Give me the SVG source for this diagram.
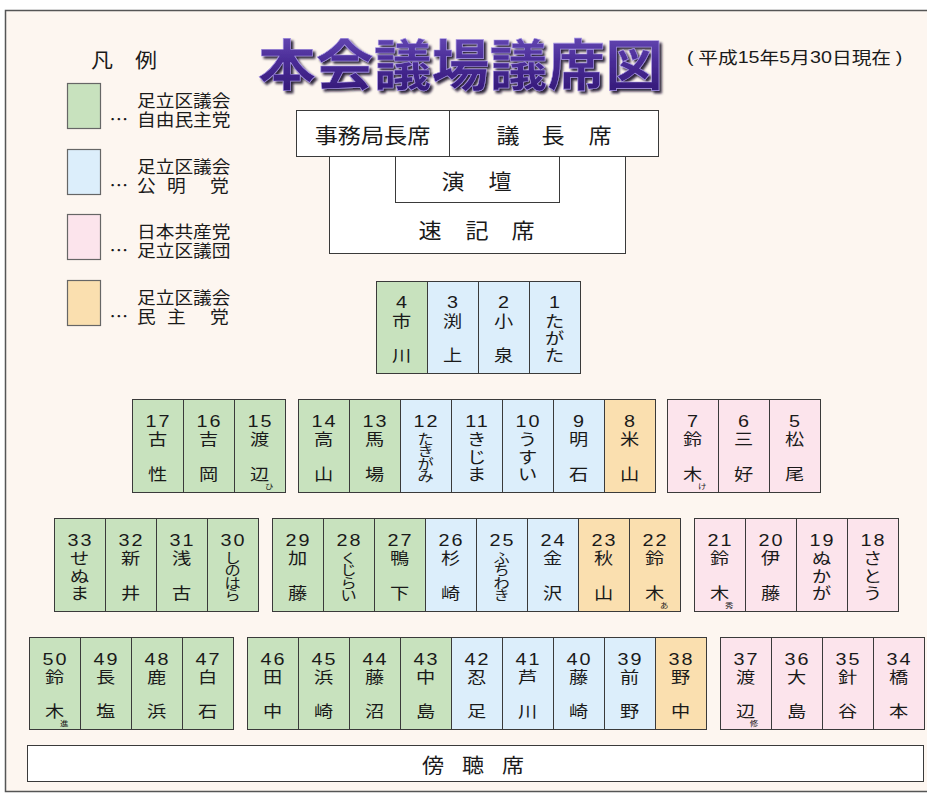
<svg xmlns="http://www.w3.org/2000/svg" width="927" height="795" viewBox="0 0 927 795">
<defs>
<style>
.s{stroke:#3a3a3a;stroke-width:1}
.g{fill:#C8E2BE}.b{fill:#DCEEFB}.p{fill:#FCE4EC}.o{fill:#FADFAF}.w{fill:#ffffff}
.lg{stroke:#666;stroke-width:1.2}
text{font-family:"Noto Sans CJK JP","Noto Sans CJK SC",sans-serif;fill:#1a1a1a;text-anchor:middle;dominant-baseline:central;font-size:16px}
tspan{dominant-baseline:central}
.num{font-family:"Liberation Sans","Noto Sans CJK JP",sans-serif;font-size:16.5px;letter-spacing:1.5px}
.k4{font-size:13.5px}
.sub{font-size:7px}
.lt{font-size:17px;text-anchor:start}
.big{font-size:21px}
.ttl{font-size:55px;font-weight:bold;text-anchor:start}
</style>
<linearGradient id="tg" x1="0" y1="0" x2="0" y2="1">
<stop offset="0" stop-color="#7258c4"/>
<stop offset="0.5" stop-color="#4a2c96"/>
<stop offset="1" stop-color="#2e1570"/>
</linearGradient>
<filter id="tsh" x="-5%" y="-20%" width="110%" height="150%">
<feDropShadow dx="2.5" dy="2.5" stdDeviation="0.8" flood-color="#140828" flood-opacity="0.9"/>
</filter>
</defs>
<rect x="0" y="0" width="927" height="795" fill="#ffffff"/>
<rect x="5.5" y="10.5" width="930" height="781" fill="#FDF6F0" stroke="#555" stroke-width="1.5"/>

<g id="title">
<text class="ttl" x="258" y="61" textLength="405" lengthAdjust="spacingAndGlyphs" filter="url(#tsh)" style="fill:url(#tg);stroke:#a896e6;stroke-width:0.6">本会議場議席図</text>
</g>
<g id="date" transform="translate(687,57) scale(1.16,1)">
<text x="0" y="0" style="font-size:17px;text-anchor:start;font-family:'Liberation Sans','Noto Sans CJK JP',sans-serif">(<tspan dx="4" style="font-family:'Noto Sans CJK JP',sans-serif">平成</tspan>15<tspan style="font-family:'Noto Sans CJK JP',sans-serif">年</tspan>5<tspan style="font-family:'Noto Sans CJK JP',sans-serif">月</tspan>30<tspan style="font-family:'Noto Sans CJK JP',sans-serif">日現在</tspan><tspan dx="4">)</tspan></text>
</g>

<g id="legend">
<g transform="translate(124,59) scale(1.1,1)"><text x="0" y="0" style="font-size:20px">凡　例</text></g>
<g id="legend-jimin"><rect class="lg g" x="67.5" y="83.5" width="33" height="45"/>
<g transform="translate(137,99) scale(1.1,1)"><text class="lt"><tspan x="0" y="0">足立区議会</tspan><tspan x="-25" y="19">…</tspan><tspan x="0" y="19">自由民主党</tspan></text></g></g>
<g id="legend-komei"><rect class="lg b" x="67.5" y="149.5" width="33" height="45"/>
<g transform="translate(137,165) scale(1.1,1)"><text class="lt"><tspan x="0" y="0">足立区議会</tspan><tspan x="-25" y="19">…</tspan><tspan x="0" y="19">公</tspan><tspan x="27.3" y="19">明</tspan><tspan x="66.4" y="19">党</tspan></text></g></g>
<g id="legend-kyosan"><rect class="lg p" x="67.5" y="214.5" width="33" height="45"/>
<g transform="translate(137,230) scale(1.1,1)"><text class="lt"><tspan x="0" y="0">日本共産党</tspan><tspan x="-25" y="19">…</tspan><tspan x="0" y="19">足立区議団</tspan></text></g></g>
<g id="legend-minshu"><rect class="lg o" x="67.5" y="280.5" width="33" height="45"/>
<g transform="translate(137,296) scale(1.1,1)"><text class="lt"><tspan x="0" y="0">足立区議会</tspan><tspan x="-25" y="19">…</tspan><tspan x="0" y="19">民</tspan><tspan x="27.3" y="19">主</tspan><tspan x="66.4" y="19">党</tspan></text></g></g>
</g>

<g id="sokki"><rect class="s w" x="329.5" y="156.5" width="296" height="97"/>
<g transform="translate(477,228) scale(1.1,1)"><text class="big"><tspan x="-42.7" y="0">速</tspan><tspan x="0" y="0">記</tspan><tspan x="41.8" y="0">席</tspan></text></g></g>
<g id="endan"><rect class="s w" x="395.5" y="156.5" width="164" height="46"/>
<g transform="translate(477,179) scale(1.1,1)"><text class="big"><tspan x="-21.8" y="0">演</tspan><tspan x="21" y="0">壇</tspan></text></g></g>
<g id="jimukyoku"><rect class="s w" x="296.5" y="110.5" width="153" height="46"/>
<g transform="translate(372.5,133) scale(1.1,1)"><text class="big" x="0" y="0">事務局長席</text></g></g>
<g id="gicho"><rect class="s w" x="449.5" y="110.5" width="209" height="46"/>
<g transform="translate(553,133) scale(1.1,1)"><text class="big"><tspan x="-40.9" y="0">議</tspan><tspan x="0" y="0">長</tspan><tspan x="42.7" y="0">席</tspan></text></g></g>

<!-- Row 1 -->
<g id="seat-4"><rect class="s g" x="376.5" y="281.5" width="51" height="92"/><g transform="translate(401.5,281) scale(1.2,1)"><text><tspan class="num" x="0.75" y="22">4</tspan><tspan x="0" y="38.5">市</tspan><tspan x="0" y="73">川</tspan></text></g></g>
<g id="seat-3"><rect class="s b" x="427.5" y="281.5" width="51" height="92"/><g transform="translate(452.5,281) scale(1.2,1)"><text><tspan class="num" x="0.75" y="22">3</tspan><tspan x="0" y="38.5">渕</tspan><tspan x="0" y="73">上</tspan></text></g></g>
<g id="seat-2"><rect class="s b" x="478.5" y="281.5" width="51" height="92"/><g transform="translate(503.5,281) scale(1.2,1)"><text><tspan class="num" x="0.75" y="22">2</tspan><tspan x="0" y="38.5">小</tspan><tspan x="0" y="73">泉</tspan></text></g></g>
<g id="seat-1"><rect class="s b" x="529.5" y="281.5" width="51" height="92"/><g transform="translate(554.5,281) scale(1.2,1)"><text><tspan class="num" x="0.75" y="22">1</tspan><tspan x="0" y="38.5">た</tspan><tspan x="0" y="56">が</tspan><tspan x="0" y="73">た</tspan></text></g></g>

<!-- Row 2 -->
<g id="seat-17"><rect class="s g" x="132.5" y="399.5" width="51" height="93"/><g transform="translate(157.5,399) scale(1.2,1)"><text><tspan class="num" x="0.75" y="23">17</tspan><tspan x="0" y="39">古</tspan><tspan x="0" y="74">性</tspan></text></g></g>
<g id="seat-16"><rect class="s g" x="183.5" y="399.5" width="51" height="93"/><g transform="translate(208.5,399) scale(1.2,1)"><text><tspan class="num" x="0.75" y="23">16</tspan><tspan x="0" y="39">吉</tspan><tspan x="0" y="74">岡</tspan></text></g></g>
<g id="seat-15"><rect class="s g" x="234.5" y="399.5" width="51" height="93"/><g transform="translate(259.5,399) scale(1.2,1)"><text><tspan class="num" x="0.75" y="23">15</tspan><tspan x="0" y="39">渡</tspan><tspan x="0" y="74">辺</tspan><tspan class="sub" x="8" y="86.5">ひ</tspan></text></g></g>
<g id="seat-14"><rect class="s g" x="298.5" y="399.5" width="51" height="93"/><g transform="translate(323.5,399) scale(1.2,1)"><text><tspan class="num" x="0.75" y="23">14</tspan><tspan x="0" y="39">高</tspan><tspan x="0" y="74">山</tspan></text></g></g>
<g id="seat-13"><rect class="s g" x="349.5" y="399.5" width="51" height="93"/><g transform="translate(374.5,399) scale(1.2,1)"><text><tspan class="num" x="0.75" y="23">13</tspan><tspan x="0" y="39">馬</tspan><tspan x="0" y="74">場</tspan></text></g></g>
<g id="seat-12"><rect class="s b" x="400.5" y="399.5" width="51" height="93"/><g transform="translate(425.5,399) scale(1.2,1)"><text><tspan class="num" x="0.75" y="23">12</tspan><tspan class="k4" x="0" y="38.5">た</tspan><tspan class="k4" x="0" y="51">き</tspan><tspan class="k4" x="0" y="63.5">が</tspan><tspan class="k4" x="0" y="75.5">み</tspan></text></g></g>
<g id="seat-11"><rect class="s b" x="451.5" y="399.5" width="51" height="93"/><g transform="translate(476.5,399) scale(1.2,1)"><text><tspan class="num" x="0.75" y="23">11</tspan><tspan x="0" y="39">き</tspan><tspan x="0" y="56.5">じ</tspan><tspan x="0" y="74">ま</tspan></text></g></g>
<g id="seat-10"><rect class="s b" x="502.5" y="399.5" width="51" height="93"/><g transform="translate(527.5,399) scale(1.2,1)"><text><tspan class="num" x="0.75" y="23">10</tspan><tspan x="0" y="39">う</tspan><tspan x="0" y="56.5">す</tspan><tspan x="0" y="74">い</tspan></text></g></g>
<g id="seat-9"><rect class="s b" x="553.5" y="399.5" width="51" height="93"/><g transform="translate(578.5,399) scale(1.2,1)"><text><tspan class="num" x="0.75" y="23">9</tspan><tspan x="0" y="39">明</tspan><tspan x="0" y="74">石</tspan></text></g></g>
<g id="seat-8"><rect class="s o" x="604.5" y="399.5" width="51" height="93"/><g transform="translate(629.5,399) scale(1.2,1)"><text><tspan class="num" x="0.75" y="23">8</tspan><tspan x="0" y="39">米</tspan><tspan x="0" y="74">山</tspan></text></g></g>
<g id="seat-7"><rect class="s p" x="667.5" y="399.5" width="51" height="93"/><g transform="translate(692.5,399) scale(1.2,1)"><text><tspan class="num" x="0.75" y="23">7</tspan><tspan x="0" y="39">鈴</tspan><tspan x="0" y="74">木</tspan><tspan class="sub" x="8" y="86.5">け</tspan></text></g></g>
<g id="seat-6"><rect class="s p" x="718.5" y="399.5" width="51" height="93"/><g transform="translate(743.5,399) scale(1.2,1)"><text><tspan class="num" x="0.75" y="23">6</tspan><tspan x="0" y="39">三</tspan><tspan x="0" y="74">好</tspan></text></g></g>
<g id="seat-5"><rect class="s p" x="769.5" y="399.5" width="51" height="93"/><g transform="translate(794.5,399) scale(1.2,1)"><text><tspan class="num" x="0.75" y="23">5</tspan><tspan x="0" y="39">松</tspan><tspan x="0" y="74">尾</tspan></text></g></g>

<!-- Row 3 -->
<g id="seat-33"><rect class="s g" x="54.5" y="518.5" width="51" height="93"/><g transform="translate(79.5,518) scale(1.2,1)"><text><tspan class="num" x="0.75" y="23">33</tspan><tspan x="0" y="39">せ</tspan><tspan x="0" y="56.5">ぬ</tspan><tspan x="0" y="74">ま</tspan></text></g></g>
<g id="seat-32"><rect class="s g" x="105.5" y="518.5" width="51" height="93"/><g transform="translate(130.5,518) scale(1.2,1)"><text><tspan class="num" x="0.75" y="23">32</tspan><tspan x="0" y="39">新</tspan><tspan x="0" y="74">井</tspan></text></g></g>
<g id="seat-31"><rect class="s g" x="156.5" y="518.5" width="51" height="93"/><g transform="translate(181.5,518) scale(1.2,1)"><text><tspan class="num" x="0.75" y="23">31</tspan><tspan x="0" y="39">浅</tspan><tspan x="0" y="74">古</tspan></text></g></g>
<g id="seat-30"><rect class="s g" x="207.5" y="518.5" width="51" height="93"/><g transform="translate(232.5,518) scale(1.2,1)"><text><tspan class="num" x="0.75" y="23">30</tspan><tspan class="k4" x="0" y="38.5">し</tspan><tspan class="k4" x="0" y="51">の</tspan><tspan class="k4" x="0" y="63.5">は</tspan><tspan class="k4" x="0" y="75.5">ら</tspan></text></g></g>
<g id="seat-29"><rect class="s g" x="272.5" y="518.5" width="51" height="93"/><g transform="translate(297.5,518) scale(1.2,1)"><text><tspan class="num" x="0.75" y="23">29</tspan><tspan x="0" y="39">加</tspan><tspan x="0" y="74">藤</tspan></text></g></g>
<g id="seat-28"><rect class="s g" x="323.5" y="518.5" width="51" height="93"/><g transform="translate(348.5,518) scale(1.2,1)"><text><tspan class="num" x="0.75" y="23">28</tspan><tspan class="k4" x="0" y="38.5">く</tspan><tspan class="k4" x="0" y="51">じ</tspan><tspan class="k4" x="0" y="63.5">ら</tspan><tspan class="k4" x="0" y="75.5">い</tspan></text></g></g>
<g id="seat-27"><rect class="s g" x="374.5" y="518.5" width="51" height="93"/><g transform="translate(399.5,518) scale(1.2,1)"><text><tspan class="num" x="0.75" y="23">27</tspan><tspan x="0" y="39">鴨</tspan><tspan x="0" y="74">下</tspan></text></g></g>
<g id="seat-26"><rect class="s b" x="425.5" y="518.5" width="51" height="93"/><g transform="translate(450.5,518) scale(1.2,1)"><text><tspan class="num" x="0.75" y="23">26</tspan><tspan x="0" y="39">杉</tspan><tspan x="0" y="74">崎</tspan></text></g></g>
<g id="seat-25"><rect class="s b" x="476.5" y="518.5" width="51" height="93"/><g transform="translate(501.5,518) scale(1.2,1)"><text><tspan class="num" x="0.75" y="23">25</tspan><tspan class="k4" x="0" y="38.5">ふ</tspan><tspan class="k4" x="0" y="51">ち</tspan><tspan class="k4" x="0" y="63.5">わ</tspan><tspan class="k4" x="0" y="75.5">き</tspan></text></g></g>
<g id="seat-24"><rect class="s b" x="527.5" y="518.5" width="51" height="93"/><g transform="translate(552.5,518) scale(1.2,1)"><text><tspan class="num" x="0.75" y="23">24</tspan><tspan x="0" y="39">金</tspan><tspan x="0" y="74">沢</tspan></text></g></g>
<g id="seat-23"><rect class="s o" x="578.5" y="518.5" width="51" height="93"/><g transform="translate(603.5,518) scale(1.2,1)"><text><tspan class="num" x="0.75" y="23">23</tspan><tspan x="0" y="39">秋</tspan><tspan x="0" y="74">山</tspan></text></g></g>
<g id="seat-22"><rect class="s o" x="629.5" y="518.5" width="51" height="93"/><g transform="translate(654.5,518) scale(1.2,1)"><text><tspan class="num" x="0.75" y="23">22</tspan><tspan x="0" y="39">鈴</tspan><tspan x="0" y="74">木</tspan><tspan class="sub" x="8" y="86.5">あ</tspan></text></g></g>
<g id="seat-21"><rect class="s p" x="694.5" y="518.5" width="51" height="93"/><g transform="translate(719.5,518) scale(1.2,1)"><text><tspan class="num" x="0.75" y="23">21</tspan><tspan x="0" y="39">鈴</tspan><tspan x="0" y="74">木</tspan><tspan class="sub" x="8" y="86.5">秀</tspan></text></g></g>
<g id="seat-20"><rect class="s p" x="745.5" y="518.5" width="51" height="93"/><g transform="translate(770.5,518) scale(1.2,1)"><text><tspan class="num" x="0.75" y="23">20</tspan><tspan x="0" y="39">伊</tspan><tspan x="0" y="74">藤</tspan></text></g></g>
<g id="seat-19"><rect class="s p" x="796.5" y="518.5" width="51" height="93"/><g transform="translate(821.5,518) scale(1.2,1)"><text><tspan class="num" x="0.75" y="23">19</tspan><tspan x="0" y="39">ぬ</tspan><tspan x="0" y="56.5">か</tspan><tspan x="0" y="74">が</tspan></text></g></g>
<g id="seat-18"><rect class="s p" x="847.5" y="518.5" width="51" height="93"/><g transform="translate(872.5,518) scale(1.2,1)"><text><tspan class="num" x="0.75" y="23">18</tspan><tspan x="0" y="39">さ</tspan><tspan x="0" y="56.5">と</tspan><tspan x="0" y="74">う</tspan></text></g></g>

<!-- Row 4 -->
<g id="seat-50"><rect class="s g" x="29.5" y="637.5" width="51" height="92"/><g transform="translate(54.5,637) scale(1.2,1)"><text><tspan class="num" x="0.75" y="22.5">50</tspan><tspan x="0" y="38.5">鈴</tspan><tspan x="0" y="73">木</tspan><tspan class="sub" x="8" y="85.5">進</tspan></text></g></g>
<g id="seat-49"><rect class="s g" x="80.5" y="637.5" width="51" height="92"/><g transform="translate(105.5,637) scale(1.2,1)"><text><tspan class="num" x="0.75" y="22.5">49</tspan><tspan x="0" y="38.5">長</tspan><tspan x="0" y="73">塩</tspan></text></g></g>
<g id="seat-48"><rect class="s g" x="131.5" y="637.5" width="51" height="92"/><g transform="translate(156.5,637) scale(1.2,1)"><text><tspan class="num" x="0.75" y="22.5">48</tspan><tspan x="0" y="38.5">鹿</tspan><tspan x="0" y="73">浜</tspan></text></g></g>
<g id="seat-47"><rect class="s g" x="182.5" y="637.5" width="51" height="92"/><g transform="translate(207.5,637) scale(1.2,1)"><text><tspan class="num" x="0.75" y="22.5">47</tspan><tspan x="0" y="38.5">白</tspan><tspan x="0" y="73">石</tspan></text></g></g>
<g id="seat-46"><rect class="s g" x="247.5" y="637.5" width="51" height="92"/><g transform="translate(272.5,637) scale(1.2,1)"><text><tspan class="num" x="0.75" y="22.5">46</tspan><tspan x="0" y="38.5">田</tspan><tspan x="0" y="73">中</tspan></text></g></g>
<g id="seat-45"><rect class="s g" x="298.5" y="637.5" width="51" height="92"/><g transform="translate(323.5,637) scale(1.2,1)"><text><tspan class="num" x="0.75" y="22.5">45</tspan><tspan x="0" y="38.5">浜</tspan><tspan x="0" y="73">崎</tspan></text></g></g>
<g id="seat-44"><rect class="s g" x="349.5" y="637.5" width="51" height="92"/><g transform="translate(374.5,637) scale(1.2,1)"><text><tspan class="num" x="0.75" y="22.5">44</tspan><tspan x="0" y="38.5">藤</tspan><tspan x="0" y="73">沼</tspan></text></g></g>
<g id="seat-43"><rect class="s g" x="400.5" y="637.5" width="51" height="92"/><g transform="translate(425.5,637) scale(1.2,1)"><text><tspan class="num" x="0.75" y="22.5">43</tspan><tspan x="0" y="38.5">中</tspan><tspan x="0" y="73">島</tspan></text></g></g>
<g id="seat-42"><rect class="s b" x="451.5" y="637.5" width="51" height="92"/><g transform="translate(476.5,637) scale(1.2,1)"><text><tspan class="num" x="0.75" y="22.5">42</tspan><tspan x="0" y="38.5">忍</tspan><tspan x="0" y="73">足</tspan></text></g></g>
<g id="seat-41"><rect class="s b" x="502.5" y="637.5" width="51" height="92"/><g transform="translate(527.5,637) scale(1.2,1)"><text><tspan class="num" x="0.75" y="22.5">41</tspan><tspan x="0" y="38.5">芦</tspan><tspan x="0" y="73">川</tspan></text></g></g>
<g id="seat-40"><rect class="s b" x="553.5" y="637.5" width="51" height="92"/><g transform="translate(578.5,637) scale(1.2,1)"><text><tspan class="num" x="0.75" y="22.5">40</tspan><tspan x="0" y="38.5">藤</tspan><tspan x="0" y="73">崎</tspan></text></g></g>
<g id="seat-39"><rect class="s b" x="604.5" y="637.5" width="51" height="92"/><g transform="translate(629.5,637) scale(1.2,1)"><text><tspan class="num" x="0.75" y="22.5">39</tspan><tspan x="0" y="38.5">前</tspan><tspan x="0" y="73">野</tspan></text></g></g>
<g id="seat-38"><rect class="s o" x="655.5" y="637.5" width="51" height="92"/><g transform="translate(680.5,637) scale(1.2,1)"><text><tspan class="num" x="0.75" y="22.5">38</tspan><tspan x="0" y="38.5">野</tspan><tspan x="0" y="73">中</tspan></text></g></g>
<g id="seat-37"><rect class="s p" x="720.5" y="637.5" width="51" height="92"/><g transform="translate(745.5,637) scale(1.2,1)"><text><tspan class="num" x="0.75" y="22.5">37</tspan><tspan x="0" y="38.5">渡</tspan><tspan x="0" y="73">辺</tspan><tspan class="sub" x="7" y="85.5">修</tspan></text></g></g>
<g id="seat-36"><rect class="s p" x="771.5" y="637.5" width="51" height="92"/><g transform="translate(796.5,637) scale(1.2,1)"><text><tspan class="num" x="0.75" y="22.5">36</tspan><tspan x="0" y="38.5">大</tspan><tspan x="0" y="73">島</tspan></text></g></g>
<g id="seat-35"><rect class="s p" x="822.5" y="637.5" width="51" height="92"/><g transform="translate(847.5,637) scale(1.2,1)"><text><tspan class="num" x="0.75" y="22.5">35</tspan><tspan x="0" y="38.5">針</tspan><tspan x="0" y="73">谷</tspan></text></g></g>
<g id="seat-34"><rect class="s p" x="873.5" y="637.5" width="51" height="92"/><g transform="translate(898.5,637) scale(1.2,1)"><text><tspan class="num" x="0.75" y="22.5">34</tspan><tspan x="0" y="38.5">橋</tspan><tspan x="0" y="73">本</tspan></text></g></g>

<g id="bochoseki"><rect class="s w" x="27.5" y="745.5" width="896" height="36"/>
<g transform="translate(473,764) scale(1.1,1)"><text class="big" style="font-size:20px"><tspan x="-36.4" y="0">傍</tspan><tspan x="0" y="0">聴</tspan><tspan x="36.4" y="0">席</tspan></text></g></g>

<g id="connectors"></g>
</svg>
